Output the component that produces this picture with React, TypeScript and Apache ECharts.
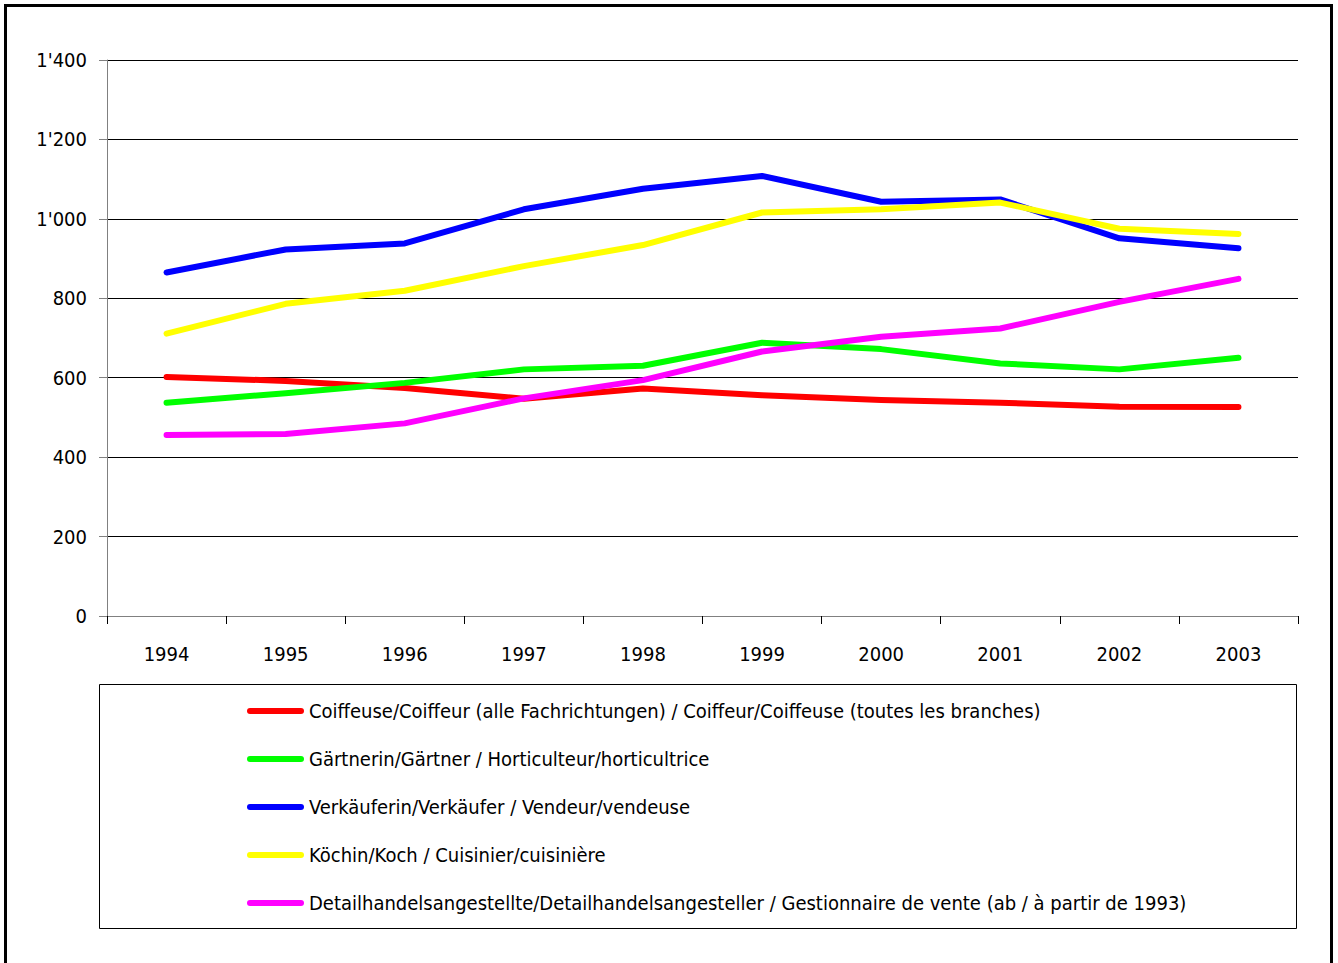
import React, { useEffect, useRef } from "react";
import * as echarts from "echarts";

const years = ["1994", "1995", "1996", "1997", "1998", "1999", "2000", "2001", "2002", "2003"];
const coiffeur = [602, 592, 574, 547, 573, 556, 544, 537, 527, 526];
const gaertner = [537, 561, 587, 621, 630, 688, 672, 636, 621, 650];
const verkaeufer = [865, 923, 938, 1024, 1076, 1108, 1043, 1049, 951, 926];
const koch = [711, 786, 819, 881, 934, 1016, 1024, 1041, 975, 962];
const detailhandel = [456, 458, 485, 548, 594, 666, 703, 724, 791, 849];

const seriesNames = [
  "Coiffeuse/Coiffeur (alle Fachrichtungen) / Coiffeur/Coiffeuse (toutes les branches)",
  "Gärtnerin/Gärtner / Horticulteur/horticultrice",
  "Verkäuferin/Verkäufer / Vendeur/vendeuse",
  "Köchin/Koch / Cuisinier/cuisinière",
  "Detailhandelsangestellte/Detailhandelsangesteller / Gestionnaire de vente (ab / à partir de 1993)",
];
const seriesData = [coiffeur, gaertner, verkaeufer, koch, detailhandel];
const seriesColors = ["#FF0000", "#00FF00", "#0000FF", "#FFFF00", "#FF00FF"];

const FONT = "'Liberation Sans Narrow', 'DejaVu Sans Condensed', 'Arial Narrow', sans-serif";

export default function App() {
  const ref = useRef<HTMLDivElement>(null);
  useEffect(() => {
    if (!ref.current) return;
    const chart = echarts.init(ref.current, undefined, { renderer: "svg" });
    const capsule = "path://M3,0 L54,0 A3,3 0 0 1 54,6 L3,6 A3,3 0 0 1 3,0 Z";
    chart.setOption({
      animation: false,
      backgroundColor: "#ffffff",
      grid: { left: 107, right: 40, top: 60, bottom: 347, containLabel: false },
      xAxis: {
        type: "category",
        data: years,
        boundaryGap: true,
        axisLine: { lineStyle: { color: "#808080", width: 1 } },
        axisTick: { show: true, length: 8, interval: 0, lineStyle: { color: "#000000" } },
        axisLabel: { color: "#000", fontFamily: FONT, fontSize: 20, margin: 28 },
        splitLine: { show: false },
      },
      yAxis: {
        type: "value",
        min: 0,
        max: 1400,
        interval: 200,
        axisLine: { show: true, lineStyle: { color: "#808080", width: 1 } },
        axisTick: { show: true, length: 8, lineStyle: { color: "#808080" } },
        axisLabel: {
          color: "#000",
          fontFamily: FONT,
          fontSize: 20,
          margin: 20,
          formatter: (v: number) => {
            const s = String(v);
            return s.length > 3 ? s.slice(0, s.length - 3) + "'" + s.slice(-3) : s;
          },
        },
        splitLine: { show: true, lineStyle: { color: "#000000", width: 1 } },
      },
      legend: {
        orient: "vertical",
        left: 242,
        top: 694,
        icon: capsule,
        itemWidth: 57,
        itemHeight: 6,
        itemGap: 24,
        itemTextGap: 4,
        textStyle: { color: "#000", fontFamily: FONT, fontSize: 20, lineHeight: 24 },
        data: seriesNames.map((n, i) => ({ name: n, itemStyle: { color: seriesColors[i] } })),
      },
      graphic: [
        {
          type: "rect",
          shape: { x: 5.5, y: 5.5, width: 1326, height: 1000 },
          style: { fill: "none", stroke: "#000", lineWidth: 3 },
          silent: true,
        },
        {
          type: "rect",
          shape: { x: 99.5, y: 684.5, width: 1197, height: 244 },
          style: { fill: "none", stroke: "#000", lineWidth: 1 },
          silent: true,
        },
      ],
      series: seriesNames.map((n, i) => ({
        name: n,
        type: "line",
        data: seriesData[i],
        symbol: "none",
        color: seriesColors[i],
        lineStyle: { color: seriesColors[i], width: 6, cap: "round", join: "round" },
        z: 2 + i,
      })),
    });
    return () => chart.dispose();
  }, []);
  return (
    <div
      ref={ref}
      style={{ position: "absolute", left: 0, top: 0, width: 1338, height: 963 }}
    />
  );
}
